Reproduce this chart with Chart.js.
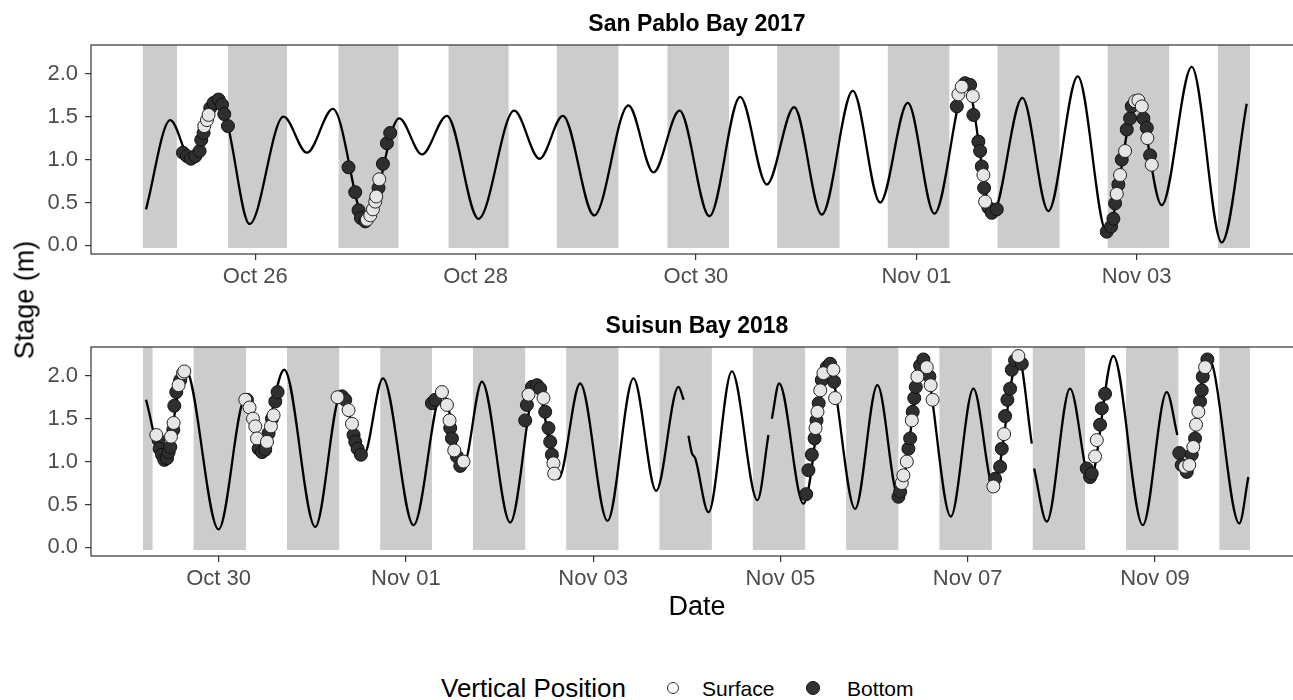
<!DOCTYPE html>
<html>
<head>
<meta charset="utf-8">
<script src="https://cdn.jsdelivr.net/npm/chart.js@4.4.1/dist/chart.umd.min.js"></script>
<style>
  html, body { margin: 0; padding: 0; background: #fff; overflow: hidden; }
  #wrap { position: relative; width: 1293px; height: 700px; overflow: hidden; font-family: "Liberation Sans", Arial, sans-serif; }
  canvas { position: absolute; left: 0; }
  .panel-title { position: absolute; width: 400px; left: 497px; text-align: center; font-weight: bold; font-size: 23px; line-height: 23px; color: #000; }
  #ylab { position: absolute; left: 25px; top: 300px; font-size: 27px; line-height: 27px; color: #000; white-space: nowrap; transform: translate(-50%, -50%) rotate(-90deg); }
  .leg { position: absolute; top: 676px; line-height: 24px; color: #000; white-space: nowrap; }
  .dot { position: absolute; width: 12px; height: 12px; border-radius: 50%; box-sizing: border-box; }
</style>
</head>
<body>
<div id="wrap">
  <canvas id="sanPablo" width="1313" height="300" style="top:0"></canvas>
  <canvas id="suisun" width="1313" height="340" style="top:300px"></canvas>
  <div class="panel-title" style="top:12px">San Pablo Bay 2017</div>
  <div class="panel-title" style="top:314px">Suisun Bay 2018</div>
  <div id="ylab">Stage (m)</div>
  <div class="leg" style="left:441px;font-size:26px">Vertical Position</div>
  <div class="dot" style="left:667px;top:682px;background:#fff;border:1.5px solid #333"></div>
  <div class="leg" style="left:702px;font-size:21px;top:677px">Surface</div>
  <div class="dot" style="left:806px;top:681px;width:14px;height:14px;background:#333;border:1px solid #111"></div>
  <div class="leg" style="left:847px;font-size:21px;top:677px">Bottom</div>
</div>
<script>
// horas desde Oct 25 2017 00:00 (San Pablo) y desde Oct 29 2018 00:00 (Suisun)

// ---- San Pablo Bay 2017 ----
const spTideHours = [0.2, 5.49, 10.0, 16.0, 18.05, 22.76, 30.16, 35.26, 40.92, 48.17, 55.36, 60.31, 65.75, 72.63,
  80.41, 85.92, 91.01, 97.83, 105.30, 110.75, 116.41, 122.94, 129.63, 135.44, 141.39, 147.42, 154.17, 160.12,
  166.15, 171.94, 178.9, 184.6, 191.11, 196.77, 203.18, 209.49, 216.03, 221.47, 228.00, 234.54, 239.98];
const spTideStage = [0.42, 1.46, 1.00, 1.70, 1.39, 0.25, 1.50, 1.08, 1.59, 0.26, 1.48, 1.06, 1.51, 0.31,
  1.57, 1.01, 1.51, 0.35, 1.63, 0.85, 1.57, 0.34, 1.73, 0.71, 1.61, 0.36, 1.80, 0.50,
  1.66, 0.37, 1.89, 0.37, 1.72, 0.40, 1.97, 0.15, 1.71, 0.47, 2.08, 0.035, 1.65];

const spSurfaceHours = [12.89, 13.48, 13.83, 48.33, 49.05, 49.63, 50.14, 50.35, 51.01,
  177.17, 177.91, 180.31, 182.62, 182.99, 211.67, 212.39, 213.48, 215.66, 216.38, 217.12, 218.34, 219.30];
const spSurfaceStage = [1.39, 1.46, 1.52, 0.30, 0.35, 0.42, 0.51, 0.57, 0.77,
  1.76, 1.85, 1.74, 0.82, 0.51, 0.60, 0.82, 1.10, 1.68, 1.69, 1.62, 1.25, 0.94];

const spBottomHours = [8.25, 9.13, 10.0, 10.93, 11.87, 12.24, 12.74, 14.20, 14.92, 16.01, 16.75, 17.25, 18.05,
  44.32, 45.78, 46.50, 47.02, 47.96, 50.85, 51.81, 52.68, 53.40,
  176.83, 178.63, 179.72, 180.44, 181.53, 181.90, 182.27, 182.77, 183.71, 184.45, 185.53,
  209.49, 210.43, 210.93, 211.30, 212.02, 212.76, 213.85, 214.57, 214.94, 217.47, 218.21, 218.93];
const spBottomStage = [1.08, 1.04, 1.01, 1.04, 1.10, 1.23, 1.31, 1.60, 1.66, 1.70, 1.64, 1.53, 1.39,
  0.91, 0.62, 0.41, 0.32, 0.28, 0.67, 0.95, 1.19, 1.31,
  1.62, 1.89, 1.87, 1.52, 1.21, 1.10, 0.92, 0.67, 0.44, 0.38, 0.42,
  0.16, 0.22, 0.31, 0.49, 0.71, 1.00, 1.35, 1.48, 1.62, 1.48, 1.37, 1.05];

const spNightStart = [-0.5, 18.05, 42.14, 66.1, 89.7, 113.8, 137.7, 161.8, 185.7, 209.7, 233.7];
const spNightEnd = [6.95, 30.9, 55.2, 79.2, 103.1, 127.2, 151.3, 175.2, 199.2, 223.1, 240.7];

const spTickHours = [24, 72, 120, 168, 216];
const spTickLabels = ['Oct 26', 'Oct 28', 'Oct 30', 'Nov 01', 'Nov 03'];

// ---- Suisun Bay 2018 (null = hueco en la serie) ----
const suTideHours = [5.41, 9.92, 15.48, 24.01, 30.85, 34.69, 40.84, 48.78, 55.3, 61.16, 66.13, 73.97, 81.25,
  86.78, 91.50, 98.75, 105.4, 111.12, 116.68, 123.68, 130.34, 136.16, 141.87, 143.20, 143.8, 144.43, 145.30,
  146.15, 149.56, 155.55, 162.11, 164.93, 165.4, 165.80, 167.67, 173.90, 180.30, 187.14, 192.86, 198.24,
  204.64, 211.66, 217.46, 222.58, 228.99, 232.42, 232.7, 233.01, 236.26, 242.23, 247.36, 253.33, 260.86,
  267.01, 269.72, 270.0, 270.4, 272.0, 277.67, 278.95, 285.61, 287.92];
const suTideStage = [1.72, 1.00, 2.08, 0.21, 1.74, 1.12, 2.07, 0.24, 1.77, 1.07, 1.97, 0.26, 1.81,
  0.96, 1.93, 0.29, 1.89, 0.80, 1.91, 0.31, 1.97, 0.66, 1.87, 1.72, null, 1.30, 1.10,
  1.04, 0.41, 2.05, 0.55, 1.31, null, 1.50, 1.91, 0.51, 2.12, 0.45, 1.89, 0.59,
  2.18, 0.36, 1.85, 0.71, 2.22, 1.21, null, 0.92, 0.30, 1.85, 0.78, 2.23, 0.26,
  1.81, 1.31, null, 1.05, 0.89, 2.20, 2.09, 0.28, 0.82];

const suSurfaceHours = [8.05, 11.81, 12.48, 13.76, 14.89, 15.22,
  30.85, 31.95, 32.82, 33.41, 33.85, 36.41, 37.43, 38.10,
  54.50, 57.32, 58.19, 81.25, 82.53, 83.20, 84.40, 86.78,
  103.44, 107.28, 109.84, 110.02,
  177.0, 177.5, 178.2, 179.02, 181.58, 182.02,
  199.11, 199.52, 200.39, 201.67, 203.10, 205.51, 206.5, 207.0,
  222.58, 225.32, 228.99, 248.64, 249.08,
  271.69, 272.79, 273.82, 274.52, 275.11, 276.83];
const suSurfaceStage = [1.31, 1.29, 1.45, 1.89, 2.03, 2.05,
  1.72, 1.63, 1.50, 1.41, 1.27, 1.23, 1.41, 1.54,
  1.75, 1.60, 1.44, 1.81, 1.66, 1.48, 1.13, 1.00,
  1.78, 1.74, 0.98, 0.86,
  1.39, 1.58, 1.83, 2.03, 2.07, 1.74,
  0.75, 0.84, 1.00, 1.48, 1.99, 2.10, 1.89, 1.72,
  0.71, 1.32, 2.23, 1.06, 1.25,
  0.94, 0.96, 1.17, 1.43, 1.58, 2.10];

const suBottomHours = [8.63, 8.89, 9.51, 10.10, 10.79, 11.20, 11.63, 12.4, 12.66, 13.17, 14.19,
  31.28, 34.26, 35.13, 35.97, 36.82, 37.69, 38.54, 39.13,
  55.63, 56.47, 58.60, 59.03, 59.62, 60.49,
  78.69, 79.53, 83.38, 83.81, 85.09, 85.94,
  102.59, 103.03, 104.31, 105.59, 106.43, 107.72, 108.56, 109.00, 109.43,
  174.59, 175.18, 176.05, 176.75, 177.25, 177.8, 178.6, 179.89, 180.74, 181.76,
  198.24, 198.68, 200.80, 201.24, 201.9, 202.3, 202.7, 203.80, 204.64, 206.18,
  223.01, 224.30, 224.73, 225.58, 226.17, 226.86, 227.30, 228.14, 229.86,
  246.51, 247.36, 247.79, 249.92, 250.36, 251.20,
  270.23, 270.85, 272.13, 273.41, 274.26, 275.54, 275.98, 276.24, 277.42];
const suBottomStage = [1.25, 1.15, 1.08, 1.02, 1.04, 1.11, 1.17, 1.37, 1.65, 1.81, 1.95,
  1.72, 1.15, 1.11, 1.14, 1.33, 1.50, 1.70, 1.81,
  1.76, 1.72, 1.31, 1.23, 1.15, 1.08,
  1.68, 1.72, 1.39, 1.27, 1.06, 0.95,
  1.48, 1.66, 1.87, 1.89, 1.85, 1.58, 1.39, 1.23, 1.08,
  0.62, 0.90, 1.08, 1.27, 1.48, 1.68, 1.95, 2.10, 2.14, 1.93,
  0.59, 0.65, 1.15, 1.27, 1.58, 1.74, 1.87, 2.12, 2.19, 1.99,
  0.80, 0.94, 1.15, 1.53, 1.72, 1.85, 2.07, 2.18, 2.14,
  0.92, 0.82, 0.86, 1.43, 1.62, 1.79,
  1.10, 0.96, 0.88, 1.08, 1.27, 1.70, 1.83, 1.99, 2.19];

const suNightStart = [4.64, 17.60, 41.53, 65.44, 89.19, 113.10, 137.00, 160.93, 184.84, 208.74, 232.67, 256.58, 280.48];
const suNightEnd = [7.10, 31.03, 54.93, 78.69, 102.59, 126.50, 150.43, 174.33, 198.24, 222.17, 246.07, 269.98, 288.35];

const suTickHours = [24, 72, 120, 168, 216, 264];
const suTickLabels = ['Oct 30', 'Nov 01', 'Nov 03', 'Nov 05', 'Nov 07', 'Nov 09'];

const stageTicks = [0, 0.5, 1.0, 1.5, 2.0];
const nightFloor = -0.03;

Chart.defaults.font.family = '"Liberation Sans", Arial, sans-serif';

function toPoints(xs, ys) {
  return xs.map((x, i) => ({ x: x, y: ys[i] }));
}

// franjas de noche + marco del panel
const nightShade = {
  id: 'nightShade',
  beforeDatasetsDraw(chart, args, opts) {
    const { ctx, chartArea: a, scales: { x, y } } = chart;
    ctx.save();
    ctx.beginPath();
    ctx.rect(a.left, a.top, a.width, a.height);
    ctx.clip();
    ctx.fillStyle = '#cccccc';
    const yTop = y.getPixelForValue(y.max);
    const yBot = y.getPixelForValue(nightFloor);
    opts.starts.forEach((s, i) => {
      const x0 = x.getPixelForValue(s);
      const x1 = x.getPixelForValue(opts.ends[i]);
      ctx.fillRect(x0, yTop, x1 - x0, yBot - yTop);
    });
    ctx.restore();
  },
  afterDraw(chart) {
    const { ctx, chartArea: a } = chart;
    ctx.save();
    ctx.strokeStyle = '#333333';
    ctx.lineWidth = 1.2;
    ctx.strokeRect(a.left, a.top, a.width, a.height);
    ctx.restore();
  }
};

function makePanel(canvasId, cfg) {
  return new Chart(document.getElementById(canvasId), {
    data: {
      datasets: [
        {
          type: 'line',
          label: 'Stage',
          data: toPoints(cfg.tideHours, cfg.tideStage),
          borderColor: '#000',
          borderWidth: 2.3,
          pointRadius: 0,
          cubicInterpolationMode: 'monotone',
          spanGaps: false,
          order: 3
        },
        {
          type: 'scatter',
          label: 'Bottom',
          data: toPoints(cfg.bottomHours, cfg.bottomStage),
          pointRadius: 6.5,
          pointBackgroundColor: '#2f2f2f',
          pointBorderColor: '#111',
          pointBorderWidth: 1,
          order: 2
        },
        {
          type: 'scatter',
          label: 'Surface',
          data: toPoints(cfg.surfaceHours, cfg.surfaceStage),
          pointRadius: 6.5,
          pointBackgroundColor: '#e6e6e6',
          pointBorderColor: '#222',
          pointBorderWidth: 1,
          order: 1
        }
      ]
    },
    options: {
      responsive: false,
      animation: false,
      devicePixelRatio: 1,
      layout: { padding: { top: cfg.padTop, right: 10, left: 0, bottom: 0 } },
      plugins: {
        legend: { display: false },
        tooltip: { enabled: false },
        nightShade: { starts: cfg.nightStart, ends: cfg.nightEnd }
      },
      scales: {
        x: {
          type: 'linear',
          min: cfg.xMin,
          max: cfg.xMax,
          border: { display: false },
          grid: { drawOnChartArea: false, drawTicks: true, tickLength: 6, color: '#333', lineWidth: 1.2 },
          ticks: {
            autoSkip: false,
            maxRotation: 0,
            padding: 4,
            color: '#4d4d4d',
            font: { size: 22 },
            callback: (v, i) => cfg.tickLabels[i]
          },
          afterBuildTicks: (scale) => { scale.ticks = cfg.tickHours.map(v => ({ value: v })); },
          afterFit: (scale) => { scale.height = cfg.xHeight; },
          title: cfg.xTitle
        },
        y: {
          type: 'linear',
          min: -0.1,
          max: 2.335,
          border: { display: false },
          grid: { drawOnChartArea: false, drawTicks: true, tickLength: 6, color: '#333', lineWidth: 1.2 },
          ticks: {
            padding: 7,
            color: '#4d4d4d',
            font: { size: 22 },
            callback: (v) => v.toFixed(1)
          },
          afterBuildTicks: (scale) => { scale.ticks = stageTicks.map(v => ({ value: v })); },
          afterFit: (scale) => { scale.width = 91; }
        }
      }
    },
    plugins: [nightShade]
  });
}

makePanel('sanPablo', {
  tideHours: spTideHours, tideStage: spTideStage,
  surfaceHours: spSurfaceHours, surfaceStage: spSurfaceStage,
  bottomHours: spBottomHours, bottomStage: spBottomStage,
  nightStart: spNightStart, nightEnd: spNightEnd,
  tickHours: spTickHours, tickLabels: spTickLabels,
  xMin: -11.78, xMax: 252.24,
  padTop: 45, xHeight: 46,
  xTitle: { display: false }
});

makePanel('suisun', {
  tideHours: suTideHours, tideStage: suTideStage,
  surfaceHours: suSurfaceHours, surfaceStage: suSurfaceStage,
  bottomHours: suBottomHours, bottomStage: suBottomStage,
  nightStart: suNightStart, nightEnd: suNightEnd,
  tickHours: suTickHours, tickLabels: suTickLabels,
  xMin: -8.69, xMax: 301.93,
  padTop: 47, xHeight: 84,
  xTitle: { display: true, text: 'Date', color: '#000', font: { size: 27 }, padding: { top: 0, bottom: 16 } }
});
</script>
</body>
</html>
